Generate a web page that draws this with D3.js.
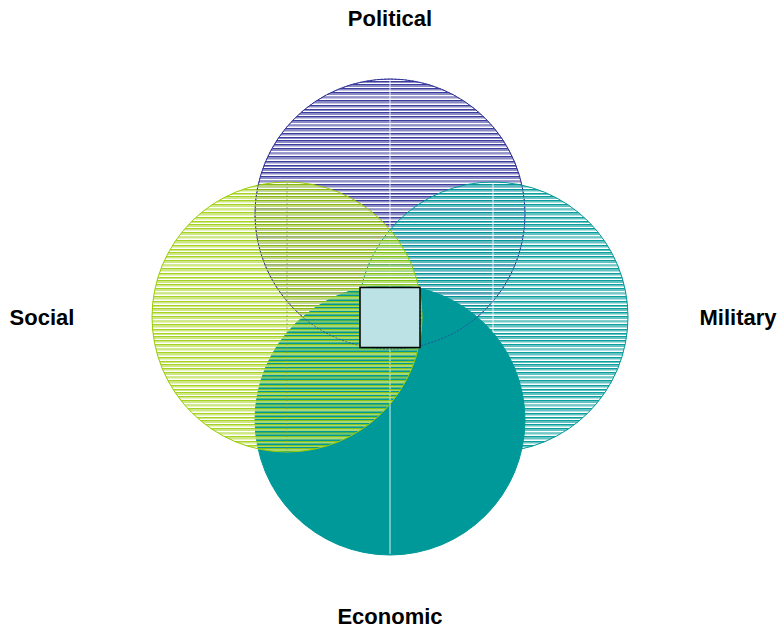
<!DOCTYPE html>
<html><head><meta charset="utf-8">
<script src="https://cdn.jsdelivr.net/npm/d3@7"></script>
<style>html,body{margin:0;padding:0;background:#fff;}svg{display:block;}</style>
</head><body>
<svg id="chart" width="780" height="630"></svg>
<script>
// ---- data ----
const categories = ["Political", "Military", "Economic", "Social"];
const angles = [-90, 0, 90, 180];          // direction of each set from the centre (degrees)
const sizes = [1, 1, 1, 1];                 // relative set sizes
const centerLabel = [""];                   // intersection box (no text)

const colors = {Political: ["#333399", "#8585c2"], Military: ["#009999", "#5cbfbf"],
                Economic: ["#009999", "#009999"], Social: ["#99cc00", "#c4e36c"]};
const solid = {Economic: true};

const W = 780, H = 630, cx = 390, cy = 317;
const svg = d3.select("#chart");
const defs = svg.append("defs");

const r = d3.scaleSqrt().domain([0, 1]).range([0, 135]);
const offset = d3.scaleLinear().domain([0, 1]).range([0, 103]);
const labelRx = 348, labelRy = 299;

// stripe pattern rows (y, height, tone 0=dark 1=light)
const rows = [[0,1,0],[1,2,1],[4,1,0],[5,1.5,1],[8,1,0],[9,2,1],[12.5,1,0],[13.5,1,1],[16,1,0],[17,2.5,1],[21,1,0],[22,1.5,1],[25,1,0],[26,1,1]];
categories.forEach(c => {
  if (solid[c]) return;
  const p = defs.append("pattern").attr("id", "pat-" + c).attr("patternUnits", "userSpaceOnUse")
    .attr("width", 20).attr("height", 28);
  p.selectAll("rect").data(rows).join("rect")
    .attr("x", 0).attr("width", 20).attr("y", d => d[0]).attr("height", d => d[1])
    .attr("fill", d => colors[c][d[2]])
    .attr("fill-opacity", c === "Social" ? 0.85 : 0.95);
});

const nodes = categories.map((c, i) => {
  const a = angles[i] * Math.PI / 180;
  return {name: c, x: cx + offset(1) * Math.cos(a), y: cy + offset(1) * Math.sin(a), r: r(sizes[i]),
          lx: cx + labelRx * Math.cos(a), ly: cy + labelRy * Math.sin(a)};
});

const g = svg.append("g");
nodes.forEach(n => {
  g.append("circle").attr("cx", n.x).attr("cy", n.y).attr("r", n.r)
    .attr("fill", solid[n.name] ? colors[n.name][0] : "url(#pat-" + n.name + ")")
    .attr("stroke", colors[n.name][0]).attr("stroke-width", 1);
  g.append("line").attr("x1", n.x).attr("x2", n.x).attr("y1", n.y - n.r + 1).attr("y2", n.y + n.r - 1)
    .attr("stroke", n.name === "Social" ? "#7a8f3a" : "#ffffff")
    .attr("stroke-opacity", n.name === "Social" ? 0.6 : 0.85)
    .attr("stroke-width", 1)
    .attr("stroke-dasharray", n.name === "Social" ? "2,2" : null);
});
// political outline showing through
const pol = nodes[0];
g.append("circle").attr("cx", pol.x).attr("cy", pol.y).attr("r", pol.r)
  .attr("fill", "none").attr("stroke", "#333399").attr("stroke-opacity", 0.7)
  .attr("stroke-width", 1).attr("stroke-dasharray", "2,1.5");

// centre intersection box
const bs = 60;
svg.append("rect").attr("x", cx - bs / 2).attr("y", cy - bs / 2 + 0.5).attr("width", bs).attr("height", bs)
  .attr("fill", "#bde2e5").attr("stroke", "#000").attr("stroke-width", 1.5);

// labels
svg.selectAll("text.lab").data(nodes).join("text").attr("class", "lab")
  .attr("x", d => d.lx).attr("y", d => d.ly)
  .attr("text-anchor", "middle").attr("dominant-baseline", "central")
  .attr("font-family", "'Liberation Sans', Arial, sans-serif").attr("font-weight", "bold")
  .attr("font-size", 22).attr("fill", "#000")
  .text(d => d.name);
</script>
</body></html>
